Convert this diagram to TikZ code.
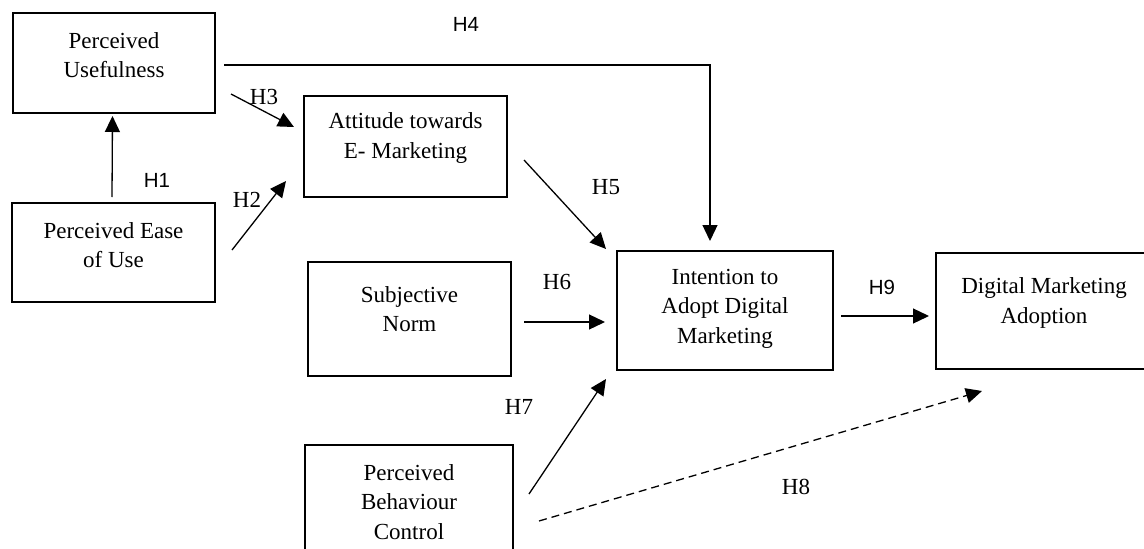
\documentclass[tikz,border=0pt]{standalone}
\usepackage{fontspec}
\setmainfont{Liberation Serif}
\newfontfamily\hsans{Liberation Sans}
\usetikzlibrary{arrows.meta}
\tikzset{
  box/.style={draw, line width=2pt, inner sep=0pt},
  boxtext/.style={align=center, inner sep=0pt, font=\fontsize{23}{29.5}\selectfont},
  hser/.style={inner sep=0pt, font=\fontsize{23}{28}\selectfont},
  hsan/.style={inner sep=0pt, font=\hsans\fontsize{20.5}{24}\selectfont},
  arr/.style={-{Triangle[length=16pt,width=15pt]}, line width=1.3pt},
  dasharr/.style={arr, dash pattern=on 8pt off 5pt}
}
\begin{document}
\begin{tikzpicture}[x=1pt,y=-1pt]
\useasboundingbox (0,0) rectangle (1144,549);
% boxes
\node[box, minimum width=202pt, minimum height=100pt,
  label={[boxtext, name=putxt, yshift=8pt]center:Perceived\\Usefulness}] (pu) at (114,63) {};
\node[box, minimum width=203pt, minimum height=99pt,
  label={[boxtext, name=peoutxt, yshift=7.5pt]center:Perceived Ease\\of Use}] (peou) at (113.5,252.5) {};
\node[box, minimum width=203pt, minimum height=101pt,
  label={[boxtext, name=atetxt, yshift=8.5pt]center:Attitude towards\\E- Marketing}] (ate) at (405.5,146.5) {};
\node[box, minimum width=203pt, minimum height=114pt,
  label={[boxtext, name=sntxt, yshift=10pt]center:Subjective\\Norm}] (sn) at (409.5,319) {};
\node[box, minimum width=216pt, minimum height=119pt,
  label={[boxtext, name=iadmtxt, yshift=2pt]center:Intention to\\Adopt Digital\\Marketing}] (iadm) at (725,310.5) {};
\node[box, minimum width=216pt, minimum height=116pt,
  label={[boxtext, name=dmatxt, yshift=8pt]center:Digital Marketing\\Adoption}] (dma) at (1044,311) {};
\node[box, minimum width=208pt, minimum height=135pt,
  label={[boxtext, name=pbctxt, yshift=10.5pt]center:Perceived\\Behaviour\\Control}] (pbc) at (409,512.5) {};
% hypothesis labels
\node[hsan] (h1) at (157,180) {H1};
\node[hser] (h2) at (247,200) {H2};
\node[hser] (h3) at (264,97) {H3};
\node[hsan] (h4) at (466,24) {H4};
\node[hser] (h5) at (606,187) {H5};
\node[hser] (h6) at (557,282) {H6};
\node[hser] (h7) at (519,407) {H7};
\node[hser] (h8) at (796,487) {H8};
\node[hsan] (h9) at (882,287) {H9};
% connectors
\draw[arr] ([shift={(-1.5,-5)}]peou.north) -- ([shift={(-1.5,2)}]pu.south);
\draw[arr] ([shift={(16,-2.5)}]peou.east) -- ([shift={(-17,-17)}]ate.south west);
\draw[arr] ([shift={(15,-20)}]pu.south east) -- ([shift={(-9,-19.5)}]ate.west);
\draw[arr] ([shift={(8,2)}]pu.east) -| ([shift={(-15,-9)}]iadm.north);
\draw[arr] ([shift={(16,13.5)}]ate.east) -- ([shift={(-10,-1)}]iadm.north west);
\draw[arr] ([shift={(12,3)}]sn.east) -- ([shift={(-11,11.5)}]iadm.west);
\draw[arr] ([shift={(15,50)}]pbc.north east) -- ([shift={(-10,8)}]iadm.south west);
\draw[dasharr] ([shift={(25,77)}]pbc.north east) -- ([shift={(47,21)}]dma.south west);
\draw[arr] ([shift={(7,5.5)}]iadm.east) -- ([shift={(-6,5)}]dma.west);
\end{tikzpicture}
\end{document}
